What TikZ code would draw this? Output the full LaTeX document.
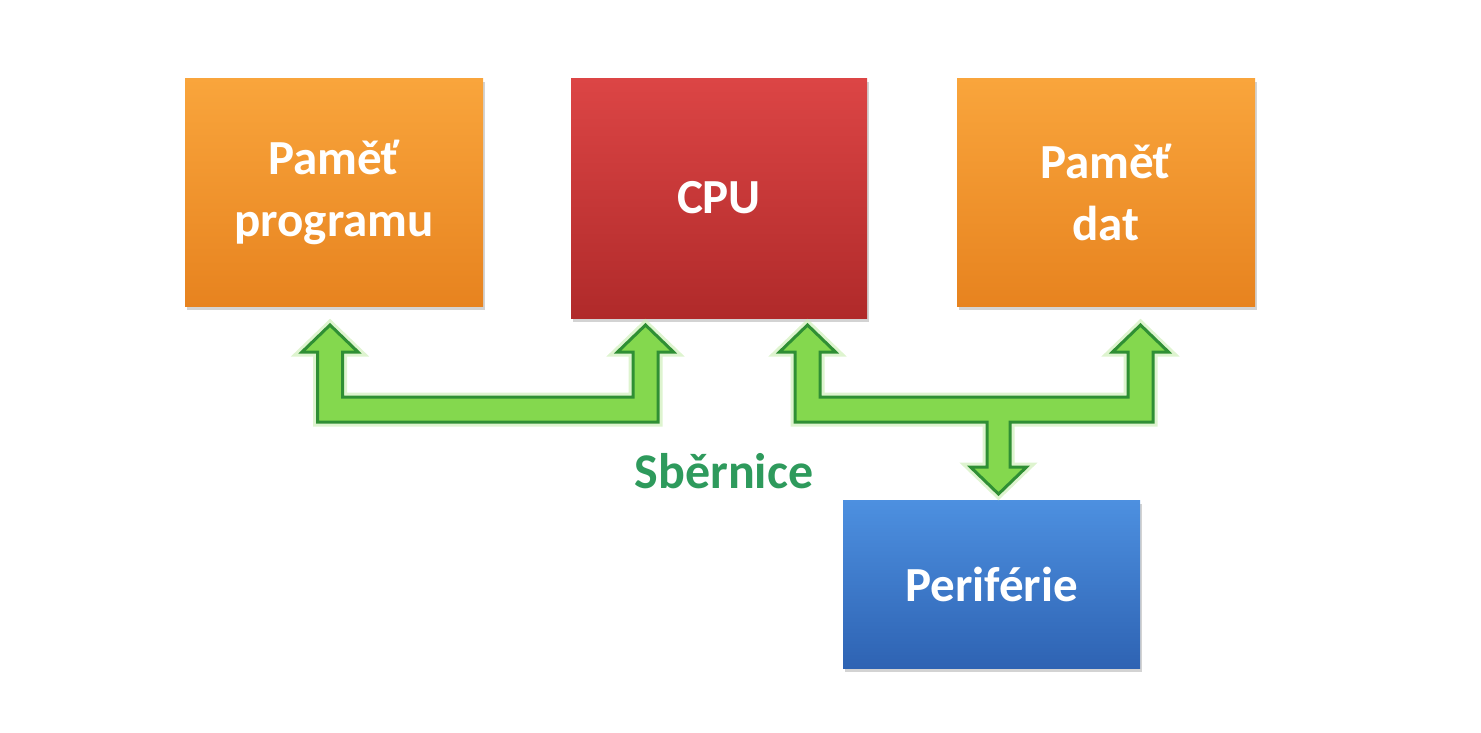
\documentclass[tikz,border=0pt]{standalone}
\usepackage{fontspec}
\setmainfont{Carlito}
\usetikzlibrary{shadows}
\definecolor{orTop}{HTML}{F9A53C}
\definecolor{orBot}{HTML}{E7831F}
\definecolor{rdTop}{HTML}{DC4545}
\definecolor{rdBot}{HTML}{B02A2A}
\definecolor{blTop}{HTML}{4D90E0}
\definecolor{blBot}{HTML}{2E63B3}
\definecolor{arFill}{HTML}{84D84E}
\definecolor{arLine}{HTML}{2F8F34}
\definecolor{busTxt}{HTML}{2E9A5C}
\tikzset{
  blockbox/.style={draw=none, minimum width=#1, text=white, align=center,
    font=\fontsize{49}{62}\selectfont\bfseries, inner sep=0pt,
    drop shadow={opacity=0.35, shadow xshift=2pt, shadow yshift=-4pt}},
  orbox/.style={blockbox=298pt, top color=orTop, bottom color=orBot},
  busglow/.style={draw=arFill!45, line width=9pt, line join=miter, opacity=0.6},
  busarrow/.style={fill=arFill, draw=arLine, line width=3pt, line join=miter}
}
\begin{document}
\begin{tikzpicture}[x=1pt,y=-1pt]
\useasboundingbox (0,0) rectangle (1481,732);
\node[orbox, minimum height=228pt] (prog) at (334,192) {Paměť\\programu};
\node[blockbox=296pt, minimum height=240pt, top color=rdTop, bottom color=rdBot] (cpu) at (719,198) {CPU};
\node[orbox, minimum height=228pt] (data) at (1106,192) {Paměť\\dat};
\node[blockbox=297pt, minimum height=168pt, top color=blTop, bottom color=blBot] (peri) at (991.5,584) {Periférie};
\node[text=busTxt, font=\fontsize{50}{58}\selectfont\bfseries] (bus) at (724,471) {Sběrnice};
% bus arrows
\foreach \st in {busglow,busarrow}{
\path[\st] (330,325) -- (358,352) -- (342.5,352) -- (342.5,397) -- (633,397) -- (633,352)
  -- (617.5,352) -- (645.5,325) -- (673.5,352) -- (658,352) -- (658,422) -- (317.5,422)
  -- (317.5,352) -- (302,352) -- cycle;
\path[\st] (807.5,325) -- (835.5,352) -- (820,352) -- (820,397) -- (1128,397) -- (1128,352)
  -- (1112.5,352) -- (1140.5,325) -- (1168.5,352) -- (1153,352) -- (1153,422) -- (1010,422)
  -- (1010,467) -- (1026.5,467) -- (998.5,494) -- (970.5,467) -- (987,467) -- (987,422)
  -- (795,422) -- (795,352) -- (779.5,352) -- cycle;
}
\end{tikzpicture}
\end{document}
